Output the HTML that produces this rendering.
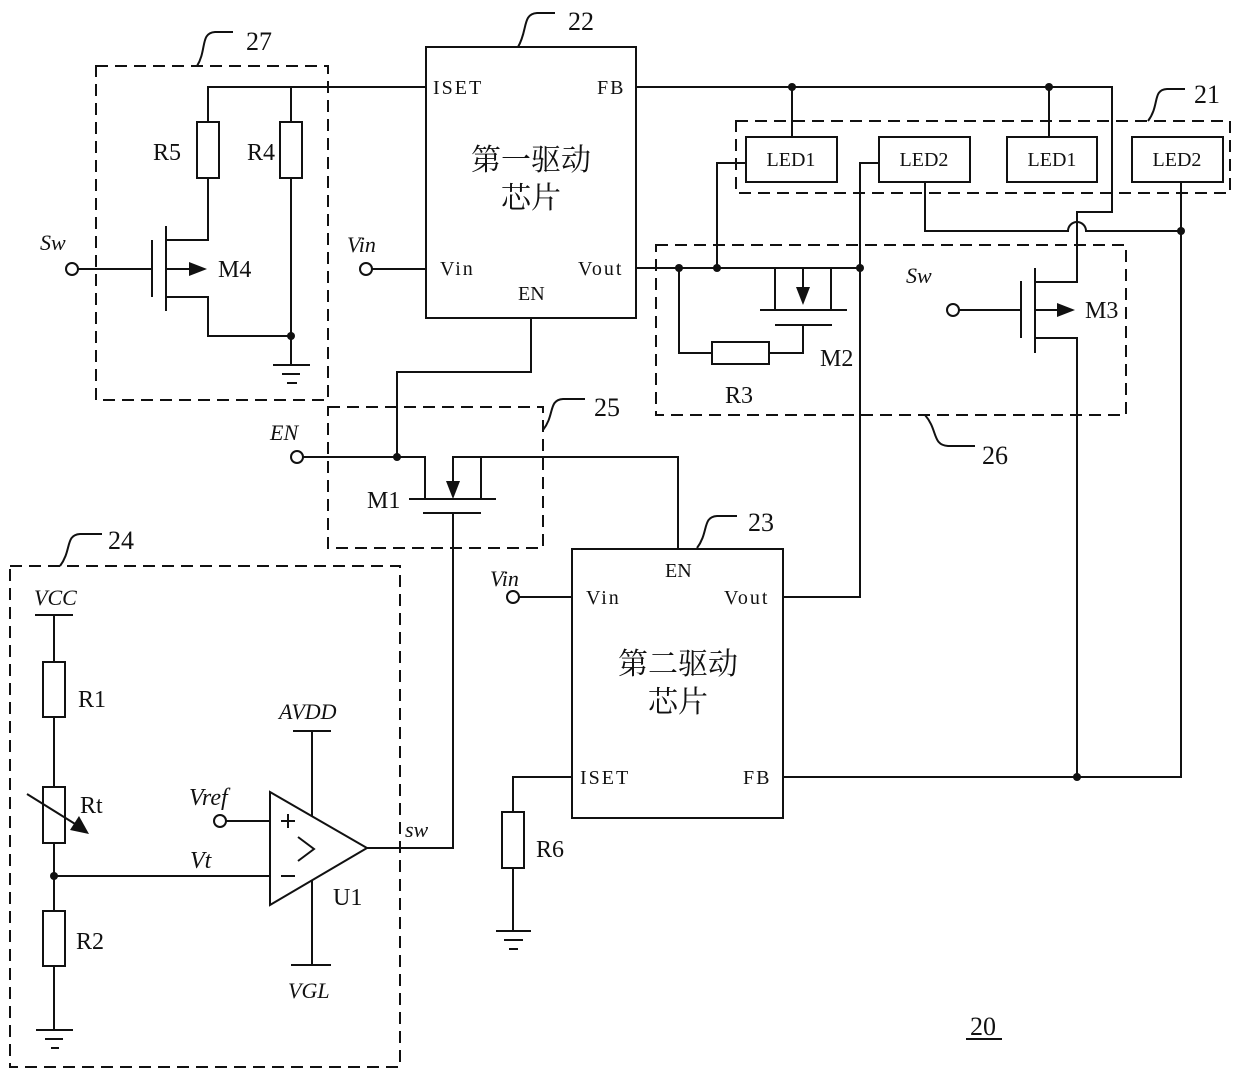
<!DOCTYPE html>
<html><head><meta charset="utf-8"><style>
html,body{margin:0;padding:0;background:#fff}
svg{display:block}
text{font-family:"Liberation Serif","Noto Serif CJK SC",serif;fill:#111}
.i{font-style:italic}
.p{letter-spacing:2px}
</style></head><body>
<svg width="1240" height="1075" viewBox="0 0 1240 1075" xmlns="http://www.w3.org/2000/svg">
<g fill="none" stroke="#111" stroke-width="2">
<g stroke-dasharray="12,7">
<rect x="96" y="66" width="232" height="334"/>
<rect x="736" y="121" width="494" height="72"/>
<rect x="656" y="245" width="470" height="170"/>
<rect x="328" y="407" width="215" height="141"/>
<rect x="10" y="566" width="390" height="501"/>
</g>
<path d="M197,66 C207,50 200,33 215,32 L233,32"/>
<path d="M518,47 C528,30 522,14 537,13 L555,13"/>
<path d="M1148,121 C1160,105 1152,90 1167,89 L1185,89"/>
<path d="M925,415 C938,430 932,445 948,446 L975,446"/>
<path d="M543,430 C555,415 548,400 563,399 L585,399"/>
<path d="M60,566 C72,550 65,535 80,534 L102,534"/>
<path d="M697,548 C709,532 702,517 717,516 L737,516"/>
<rect x="426" y="47" width="210" height="271"/>
<rect x="572" y="549" width="211" height="269"/>
<path d="M426,87 H208 V122 M291,87 V122"/>
<rect x="197" y="122" width="22" height="56"/>
<rect x="280" y="122" width="22" height="56"/>
<path d="M208,178 V240 H166 M166,297 H208 V336 H291 V178 M291,336 V365"/>
<path d="M273,365 H310 M282,374 H300 M287,383 H297"/>
<path d="M152,240 V297 M166,226 V311 M166,269 H195"/>
<path d="M78,269 H152"/>
<circle cx="72" cy="269" r="6"/>
<path d="M372,269 H426"/>
<circle cx="366" cy="269" r="6"/>
<path d="M531,318 V372 H397 V457"/>
<path d="M303,457 H425 V499 M409,499 H496 M423,513 H481 M453,513 V848 H367 M481,499 V457 H453 V482 M481,457 H678 V549"/>
<circle cx="297" cy="457" r="6"/>
<path d="M636,87 H1112 V212 H1077 V282 H1035 M792,87 V137 M1049,87 V137"/>
<rect x="746" y="137" width="91" height="45"/>
<rect x="879" y="137" width="91" height="45"/>
<rect x="1007" y="137" width="90" height="45"/>
<rect x="1132" y="137" width="91" height="45"/>
<path d="M746,163 H717 V268 M879,163 H860 V597 H783"/>
<path d="M925,182 V231 H1068 A9,9 0 0 1 1086,231 H1181 M1181,182 V777 H783"/>
<path d="M636,268 H860 M775,268 V310 M760,310 H847 M831,310 V268 M803,268 V290 M775,325 H832 M803,325 V353 H769 M712,353 H679 V268"/>
<rect x="712" y="342" width="57" height="22"/>
<path d="M959,310 H1021 M1021,281 V338 M1035,268 V353 M1035,310 H1065 M1035,338 H1077 V777"/>
<circle cx="953" cy="310" r="6"/>
<path d="M519,597 H572 M572,777 H513 V812 M513,868 V931 M496,931 H531 M504,940 H523 M509,949 H518"/>
<circle cx="513" cy="597" r="6"/>
<rect x="502" y="812" width="22" height="56"/>
<!-- box 24 -->
<path d="M35,615 H73 M54,615 V662 M54,717 V787 M54,843 V911 M54,966 V1030 M36,1030 H73 M45,1039 H63 M51,1048 H59"/>
<rect x="43" y="662" width="22" height="55"/>
<rect x="43" y="787" width="22" height="56"/>
<rect x="43" y="911" width="22" height="55"/>
<path d="M27,794 L80,827"/>
<path d="M54,876 H270 M226,821 H270"/>
<circle cx="220" cy="821" r="6"/>
<path d="M270,792 L367,848 L270,905 Z"/>
<path d="M293,731 H331 M312,731 V816 M291,965 H331 M312,881 V965"/>
<path d="M281,821 H295 M288,814 V828 M281,876 H295"/>
<path d="M298,837 L314,849 L298,861"/>
<path d="M966,1039 H1002"/>
</g>
<g fill="#111">
<polygon points="207,269 189,262 189,276"/>
<polygon points="1075,310 1057,303 1057,317"/>
<polygon points="803,305 796,287 810,287"/>
<polygon points="453,499 446,481 460,481"/>
<polygon points="89,834 70,830 79,816"/>
<circle cx="291" cy="336" r="4"/><circle cx="792" cy="87" r="4"/><circle cx="1049" cy="87" r="4"/>
<circle cx="679" cy="268" r="4"/><circle cx="717" cy="268" r="4"/><circle cx="860" cy="268" r="4"/>
<circle cx="1181" cy="231" r="4"/><circle cx="1077" cy="777" r="4"/><circle cx="397" cy="457" r="4"/>
<circle cx="54" cy="876" r="4"/>
</g>
<g font-size="22">
<text x="246" y="50" font-size="26">27</text>
<text x="568" y="30" font-size="26">22</text>
<text x="1194" y="103" font-size="26">21</text>
<text x="982" y="464" font-size="26">26</text>
<text x="594" y="416" font-size="26">25</text>
<text x="108" y="549" font-size="26">24</text>
<text x="748" y="531" font-size="26">23</text>
<text x="970" y="1035" font-size="26">20</text>
<text x="433" y="94" font-size="20" class="p">ISET</text>
<text x="597" y="94" font-size="20" class="p">FB</text>
<text x="440" y="275" font-size="20" class="p">Vin</text>
<text x="578" y="275" font-size="20" class="p">Vout</text>
<text x="518" y="300" font-size="20">EN</text>
<text x="531" y="170" font-size="30" text-anchor="middle">第一驱动</text>
<text x="531" y="208" font-size="30" text-anchor="middle">芯片</text>
<text x="665" y="577" font-size="20">EN</text>
<text x="586" y="604" font-size="20" class="p">Vin</text>
<text x="724" y="604" font-size="20" class="p">Vout</text>
<text x="580" y="784" font-size="20" class="p">ISET</text>
<text x="743" y="784" font-size="20" class="p">FB</text>
<text x="678" y="674" font-size="30" text-anchor="middle">第二驱动</text>
<text x="678" y="712" font-size="30" text-anchor="middle">芯片</text>
<text x="153" y="160" font-size="24">R5</text>
<text x="247" y="160" font-size="24">R4</text>
<text x="218" y="277" font-size="24">M4</text>
<text x="40" y="250" class="i">Sw</text>
<text x="347" y="252" class="i">Vin</text>
<text x="270" y="440" class="i">EN</text>
<text x="367" y="508" font-size="24">M1</text>
<text x="791" y="166" font-size="20" text-anchor="middle">LED1</text>
<text x="924" y="166" font-size="20" text-anchor="middle">LED2</text>
<text x="1052" y="166" font-size="20" text-anchor="middle">LED1</text>
<text x="1177" y="166" font-size="20" text-anchor="middle">LED2</text>
<text x="820" y="366" font-size="24">M2</text>
<text x="725" y="403" font-size="24">R3</text>
<text x="906" y="283" class="i">Sw</text>
<text x="1085" y="318" font-size="24">M3</text>
<text x="490" y="586" class="i">Vin</text>
<text x="536" y="857" font-size="24">R6</text>
<text x="34" y="605" class="i">VCC</text>
<text x="78" y="707" font-size="24">R1</text>
<text x="80" y="813" font-size="24">Rt</text>
<text x="76" y="949" font-size="24">R2</text>
<text x="279" y="719" class="i">AVDD</text>
<text x="288" y="998" class="i">VGL</text>
<text x="333" y="905" font-size="24">U1</text>
<text x="189" y="805" class="i" font-size="24">Vref</text>
<text x="190" y="868" class="i" font-size="24">Vt</text>
<text x="405" y="837" class="i">sw</text>
</g>
</svg>
</body></html>
